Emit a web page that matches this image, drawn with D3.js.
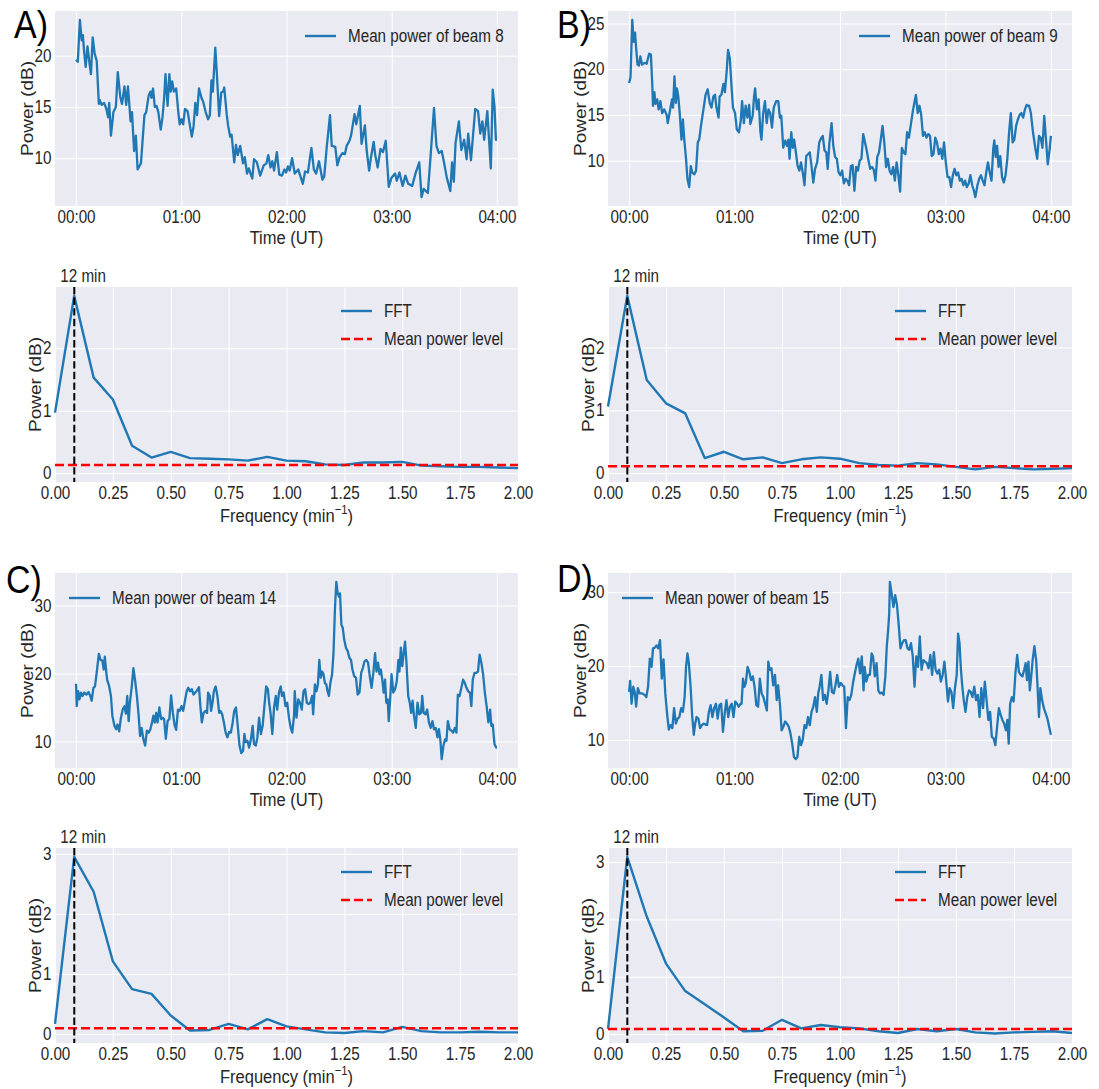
<!DOCTYPE html>
<html>
<head>
<meta charset="utf-8">
<script src="https://cdn.jsdelivr.net/npm/d3@7"></script>
<style>
  body { margin: 0; background: #fff; }
  text { font-family: "Liberation Sans", Arial, sans-serif; }
</style>
</head>
<body>
<svg id="chart" width="1099" height="1089"></svg>
<script>
// ---- data ----
const panelTags = ["A)", "B)", "C)", "D)"];
const beamNames = ["Mean power of beam 8", "Mean power of beam 9", "Mean power of beam 14", "Mean power of beam 15"];

// [minutes after 00:00 UT, power dB]
const beam8 = [[0,19.6],[1,19.4],[2.2,23.5],[3.2,21.5],[3.9,22.0],[4.7,20.2],[5.5,18.9],[6.5,20.9],[7.5,19.5],[8.5,18.2],[9.5,21.8],[10.6,20.2],[11.8,19.5],[13,15.3],[13.4,15.7],[14.6,15.2],[16,15.4],[17.3,14.8],[18.3,14.0],[18.9,15.4],[19.9,12.2],[21.3,14.5],[22.7,15.0],[23.8,18.4],[25.2,16.0],[26.2,15.3],[27.6,17.0],[28.6,15.2],[29.6,17.0],[31.1,13.6],[31.9,14.5],[33.1,10.7],[34.1,12.2],[35.1,8.9],[37,9.5],[39,14.2],[40,14.5],[41.4,16.1],[42.4,16.5],[43,15.9],[43.9,16.8],[44.9,15.0],[45.9,15.1],[46.9,14.5],[48.3,12.8],[49.3,14.0],[50.2,15.8],[51,18.2],[52.2,15.1],[53.2,18.2],[54,16.5],[54.8,17.5],[55.8,16.5],[57.1,16.8],[58.3,14.5],[59.1,13.3],[60.1,13.8],[61.1,13.3],[62.1,14.8],[63.6,14.6],[65,13.1],[66,12.1],[67,13.1],[68,15.4],[69,14.2],[70.1,16.8],[71.5,15.9],[72.5,15.5],[73.9,14.5],[75.3,13.8],[76.3,14.2],[77.2,17.6],[78,16.5],[79.4,20.8],[80.4,17.9],[81.6,14.1],[82.8,16.4],[83.9,16.5],[84.5,16.9],[85.9,14.3],[86.7,13.2],[87.9,12.1],[88.7,12.3],[90.2,9.6],[91.2,11.3],[92.2,10.3],[93.6,11.2],[95.2,9.5],[96.2,10.1],[97.5,8.5],[98.5,9.0],[100.5,8.0],[101.5,9.9],[103.1,9.6],[105,8.3],[107,9.3],[108.6,9.5],[109.6,10.3],[110.9,9.1],[111.9,9.7],[112.9,8.8],[114.5,10.6],[115.9,8.4],[117.4,8.3],[118.8,8.9],[119.8,8.6],[120.8,9.2],[121.8,8.8],[123.2,10.0],[124.7,8.5],[126.7,8.9],[129.3,7.5],[130.6,8.7],[132.2,8.6],[134.2,11.0],[135.6,8.9],[136.9,8.5],[138.5,9.7],[140.5,7.9],[141.5,8.2],[142.9,11.0],[144.8,14.2],[145.8,11.2],[147.8,11.1],[149,9.3],[150.3,10.1],[151.9,10.5],[153.3,10.4],[154.3,11.2],[155.9,11.7],[156.8,12.2],[158.8,14.3],[159.8,13.3],[161.8,15.1],[162.8,11.4],[164.7,13.2],[165.7,10.8],[167.1,8.8],[168.1,10.0],[169.7,11.6],[170.6,10.3],[172,9.1],[173.6,10.9],[175,10.6],[176.6,11.7],[178.3,7.2],[179.9,8.1],[181.9,8.5],[182.9,7.8],[184.4,8.6],[186.2,7.3],[187.8,8.3],[189.4,7.5],[191.7,7.3],[193.7,8.6],[195.7,9.6],[197,6.2],[198.2,7.0],[200.6,6.6],[202.2,10.3],[204.1,14.9],[205.5,11.2],[206.9,10.5],[208.5,10.7],[209.9,9.5],[211.4,8.1],[213.4,6.8],[214.4,9.6],[215.4,7.7],[216.4,11.5],[218.3,13.6],[219.7,10.8],[221.3,11.8],[222.7,9.9],[223.6,12.4],[225.2,9.8],[227.6,14.8],[229.2,14.6],[230.5,12.4],[231.7,13.6],[232.7,11.8],[234.5,14.6],[236.5,9.0],[237.6,16.7],[238.6,15.0],[239.4,11.8],[240,11.8]];

const beam9 = [[0,18.5],[0.8,19.1],[1.8,25.4],[2.6,23.0],[3.4,24.0],[4,22.3],[4.8,20.5],[5.6,20.4],[6.4,21.4],[7.4,20.5],[8.8,20.7],[10,20.6],[11.4,21.7],[12.4,21.6],[13.2,18.3],[13.6,16.0],[14.4,17.5],[15,16.2],[16,16.7],[16.8,15.6],[17.8,16.5],[18.8,15.2],[20,15.6],[21.4,15.0],[22,14.1],[23.4,15.6],[24.4,16.7],[25,15.8],[25.8,19.2],[26.6,16.3],[27.2,17.9],[28,17.0],[28.8,15.2],[29.8,12.3],[30.6,14.5],[31.4,12.3],[32.4,10.2],[33.2,8.0],[34.2,7.1],[35.1,9.4],[35.9,8.7],[37.1,8.5],[38.1,8.9],[39.1,12.0],[39.9,12.3],[40.9,13.8],[42.3,15.6],[43.5,17.2],[44.7,17.8],[45.9,16.3],[46.9,15.8],[47.9,17.0],[48.9,17.2],[49.7,15.8],[50.9,14.7],[51.5,17.0],[52.5,17.2],[53.7,18.4],[54.5,17.5],[55.5,19.7],[56.3,22.1],[57.3,21.2],[58.3,18.1],[59.1,15.8],[60.3,15.2],[61.3,13.4],[62.5,13.1],[63.5,14.3],[64.3,16.5],[65.3,14.1],[66.3,16.0],[67.3,14.7],[68.3,16.1],[69,14.0],[70.3,14.9],[71.1,17.0],[71.7,17.9],[72.7,15.6],[73.7,16.7],[74.7,13.2],[75.3,12.3],[76.3,15.2],[77.3,16.5],[78.3,14.1],[79.3,15.6],[80.3,15.2],[81.3,13.6],[82.3,15.8],[83.7,16.5],[84.9,16.5],[85.8,14.7],[86.6,14.9],[87.7,11.4],[88.9,12.2],[89.9,11.6],[90.7,12.3],[91.3,10.2],[92.3,13.1],[93.1,11.4],[93.9,12.3],[94.9,10.9],[95.9,9.4],[96.9,8.9],[97.8,9.8],[98.8,8.7],[99.8,7.3],[100.8,10.5],[101.8,10.7],[102.8,10.9],[103.8,9.4],[104.8,7.6],[105.8,9.1],[107,9.8],[108.2,12.0],[109.4,12.5],[110.2,12.7],[111.2,11.1],[112.2,10.9],[113,9.1],[114,12.0],[115.2,14.1],[116.2,11.6],[117.2,10.4],[118.2,10.2],[119.2,8.7],[120.2,8.4],[121.2,8.9],[122.2,7.5],[123.2,8.0],[124.2,7.8],[125.2,7.3],[126.2,9.4],[127.2,9.5],[128.2,6.7],[129.2,9.3],[130.2,8.9],[131.2,10.0],[132.2,10.2],[133.2,12.9],[134.2,12.0],[135.2,11.1],[136.2,10.0],[137.2,9.1],[138.2,9.3],[139.2,9.0],[140.2,7.8],[141.2,10.4],[142.2,10.9],[143.2,12.3],[144.2,13.8],[145.2,12.0],[146.2,9.3],[147.2,10.2],[148.2,8.9],[149.2,8.5],[150.2,9.3],[151.2,7.8],[152.2,9.8],[153.2,8.4],[154.2,6.6],[155.2,11.4],[156.2,10.9],[157.2,10.7],[158.2,13.1],[159.2,12.5],[160.2,13.8],[161.6,15.6],[163.2,17.2],[164.2,15.2],[165.2,16.0],[166.2,15.0],[167.2,12.7],[168.2,13.1],[169.2,12.5],[170.2,12.9],[171.2,12.7],[172.2,10.5],[173.2,10.7],[174.2,12.5],[175.2,12.0],[176.2,10.7],[177.2,11.3],[178.2,10.2],[179.2,12.0],[180.2,9.8],[181.2,8.2],[182.2,8.2],[183.2,7.1],[184.2,8.4],[185.2,9.1],[186.2,8.4],[187.2,8.7],[188.2,7.8],[189.2,8.0],[190.2,7.3],[191.2,7.8],[192.2,7.1],[193.2,7.5],[194.2,8.4],[195.2,7.3],[196.2,6.7],[197,6.0],[198.2,7.3],[199.2,8.0],[200.2,8.4],[201.2,7.8],[202.2,7.3],[203.2,8.7],[204.2,9.8],[205.2,8.7],[206.2,7.8],[207.2,11.3],[207.8,12.2],[208.6,10.4],[209.4,11.6],[210.2,9.3],[211.2,10.5],[212.2,8.2],[213.2,7.6],[214.2,8.4],[215.2,10.2],[216.2,13.1],[217.2,15.2],[218.2,12.0],[219.2,12.3],[220.2,13.8],[221.2,14.5],[222.2,15.0],[223.2,15.2],[224.2,14.7],[225.2,15.6],[226.2,16.1],[226.8,16.0],[227.6,16.0],[228.6,15.2],[229.8,13.1],[231.2,11.3],[232.2,10.2],[233.2,12.7],[234.2,12.5],[235.2,11.4],[236.2,14.9],[237.2,12.3],[238.2,9.6],[239.2,11.1],[240,12.7]];

const beam14 = [[0,18.5],[0.4,15.2],[1.2,17.4],[2,16.2],[2.8,17.2],[3.7,16.7],[4.7,17.2],[5.9,16.9],[7.1,17.3],[8.1,16.7],[8.9,16.0],[9.9,17.9],[10.8,18.1],[12,20.6],[13,22.9],[14,22.0],[15,21.9],[15.8,20.6],[16.4,22.5],[16.9,21.1],[17.7,19.1],[18.9,18.1],[19.9,16.7],[20.7,13.8],[21.9,12.3],[22.9,11.8],[23.6,12.5],[24.6,11.5],[25.6,13.5],[26.6,14.7],[27.6,15.2],[28.4,14.1],[29.2,16.7],[30,13.0],[30.7,15.7],[31.7,17.9],[32.7,20.8],[33.7,18.9],[34.7,16.7],[35.7,13.8],[36.5,10.8],[37.4,12.0],[38.4,10.3],[39.4,9.4],[40.4,11.6],[41.4,11.3],[42.4,11.8],[43.3,12.8],[44.1,13.8],[44.9,12.8],[45.7,14.2],[46.5,12.8],[47.5,15.0],[48.5,13.3],[49.3,13.5],[50.2,13.3],[51.2,10.4],[52.2,13.0],[53.2,13.3],[54.2,16.8],[55.2,14.2],[56.2,12.4],[57.1,11.7],[58.1,14.7],[59.1,14.5],[60.1,15.2],[61.1,14.5],[62.1,16.0],[63.1,17.4],[64,17.9],[65,17.4],[66,17.7],[67,16.9],[68,17.2],[69,17.5],[70.1,18.0],[70.9,15.2],[71.7,12.8],[72.7,14.2],[73.7,14.5],[74.7,14.2],[75.3,17.2],[76.3,16.7],[77,14.5],[77.8,15.7],[78.6,17.4],[79.6,18.1],[80.6,16.7],[81.6,14.2],[82.4,14.5],[83.3,14.0],[84.3,12.8],[85.3,11.3],[86.3,10.6],[87.3,11.4],[88.3,11.3],[89.3,12.8],[90.2,14.5],[91.2,15.0],[92.2,12.3],[93.2,9.4],[94.2,8.3],[95.2,8.6],[96,11.1],[96.7,9.9],[97.7,10.1],[98.7,9.1],[99.7,10.3],[100.7,12.3],[101.5,9.6],[102.5,9.4],[103.4,10.6],[104.4,13.5],[105.4,11.1],[106.4,12.3],[107.4,15.2],[108.4,18.1],[109.4,17.7],[110.1,15.7],[110.9,14.2],[111.9,11.1],[112.9,15.0],[113.9,16.7],[114.7,14.7],[115.7,17.2],[116.7,18.1],[117.4,16.7],[118.4,17.2],[119.4,15.2],[120.4,15.7],[121.4,13.5],[122.4,12.0],[123.3,11.3],[124.3,13.8],[124.7,17.4],[125.7,13.5],[126.7,16.2],[127.7,15.7],[128.7,14.7],[129.7,17.4],[130.6,17.7],[131.6,15.7],[132.6,15.5],[133.6,15.7],[134.6,16.7],[135.2,14.0],[136.2,18.4],[137.1,17.4],[137.9,18.4],[138.7,22.0],[139.5,19.4],[140.3,20.3],[141.1,19.9],[141.9,18.6],[142.7,18.4],[143.4,17.4],[144.2,16.7],[145,18.6],[146,19.9],[146.8,23.0],[147.6,29.4],[148.4,33.5],[149.2,31.8],[150,31.3],[150.5,31.8],[151.3,27.2],[152.1,26.7],[152.9,25.0],[153.9,23.8],[154.9,23.3],[155.9,22.3],[156.8,22.0],[157.6,20.6],[158.6,19.6],[159.6,19.4],[160.6,16.9],[161.6,17.2],[162.6,20.1],[163.5,20.8],[164.5,21.8],[165.5,22.0],[166.5,21.6],[167.5,19.6],[168.5,17.9],[169.5,20.1],[170.5,23.0],[171.3,20.3],[172.2,21.6],[173,19.9],[173.8,20.6],[174.6,19.1],[175.4,17.2],[176.2,19.1],[176.9,15.7],[177.7,16.2],[178.3,13.0],[179.1,16.2],[179.9,19.9],[180.9,17.2],[181.9,17.7],[182.9,18.9],[183.8,22.0],[184.4,20.3],[185.2,23.8],[186,21.1],[186.8,23.0],[187.6,24.7],[188.4,21.6],[189.4,16.7],[190.3,15.7],[191.1,14.2],[191.9,16.0],[192.7,13.8],[193.7,12.0],[194.7,15.7],[195.7,14.0],[196.7,14.2],[197.4,16.7],[198.2,14.2],[199.2,14.0],[200.2,14.7],[201.2,12.8],[202.2,12.0],[203.2,13.0],[204.1,11.8],[205.1,12.0],[206.1,10.6],[206.9,11.8],[207.7,10.3],[208.5,7.4],[209.5,9.4],[210.4,10.3],[211.2,10.1],[212,13.0],[213,11.8],[214,11.6],[215,11.3],[216,12.0],[216.9,11.3],[217.7,16.9],[218.7,16.7],[219.7,17.9],[220.7,19.1],[221.7,18.6],[222.6,17.9],[223.6,17.4],[224.6,17.2],[225.4,15.2],[226.2,19.1],[227.2,20.1],[228.2,20.1],[229.2,20.3],[230.1,22.8],[231.1,21.6],[232.1,19.9],[233.1,17.2],[234.1,15.2],[235.1,12.8],[236.1,14.7],[236.8,12.3],[237.6,12.5],[238.6,9.6],[239.6,9.1],[240,9.1]];

const beam15 = [[0,16.5],[0.6,18.0],[1.4,14.9],[2.4,17.2],[3.2,16.5],[4,14.5],[5,17.0],[6,16.3],[7.4,16.3],[8.8,16.1],[9.8,15.8],[10.8,17.2],[11.8,21.0],[12.8,19.9],[13.6,22.4],[14.6,22.5],[15.6,22.8],[16.6,22.4],[17.6,23.5],[18.6,18.3],[19.6,20.9],[20.6,16.3],[21.6,13.6],[22.6,11.4],[23.6,12.0],[24.6,11.6],[25.6,14.3],[26.6,12.2],[27.6,12.9],[28.6,13.1],[29.6,14.3],[30.6,13.8],[31.6,15.8],[32.4,19.9],[33.2,21.7],[34,20.4],[35,17.2],[35.8,13.6],[36.8,10.7],[37.6,12.2],[38.4,13.1],[39.4,12.9],[40.4,11.6],[41.4,12.0],[42.4,12.2],[43.4,12.1],[44.4,12.0],[45.4,13.8],[46.4,14.7],[47.4,13.1],[48.4,14.3],[49.4,14.9],[50.4,12.9],[51.4,14.7],[52.4,14.9],[53.4,11.1],[54.4,13.6],[55.4,15.4],[56.4,13.1],[57.4,14.5],[58.4,14.9],[59.4,13.1],[60.4,15.2],[61.4,14.9],[62.4,14.5],[63.4,14.9],[64,14.9],[64.8,18.3],[65.6,17.2],[66.4,17.7],[67.4,19.9],[68.4,19.2],[69.4,18.1],[70.4,18.6],[71.4,17.2],[72.4,14.7],[73.4,14.5],[74.4,18.3],[75.4,16.3],[76.4,15.8],[77.4,14.9],[78.4,14.0],[79.2,20.6],[80,19.5],[81,19.7],[82,17.4],[83,18.8],[84,15.4],[84.8,17.4],[85.8,14.9],[86.8,11.3],[87.8,11.8],[88.8,12.5],[89.8,12.2],[90.8,11.8],[91.8,10.9],[92.8,9.5],[93.8,7.7],[94.8,7.4],[95.8,7.7],[96.8,10.4],[97.8,9.3],[98.8,10.0],[99.8,12.0],[100.8,11.6],[101.8,13.1],[102.8,12.0],[103.8,13.8],[104.8,14.5],[105.8,15.8],[106.8,13.8],[107.6,16.3],[108.4,17.2],[109.4,18.8],[110.4,15.4],[111.4,16.1],[112.4,14.9],[113.4,16.7],[114.4,19.2],[115.4,16.5],[116.4,16.3],[117.4,17.4],[118.4,18.8],[119.4,17.2],[120.4,17.7],[121.4,17.4],[122.4,17.2],[123.4,11.6],[124.4,15.8],[125.4,15.4],[126.4,16.1],[127.4,17.7],[128.4,19.0],[129.4,20.1],[130.4,21.0],[131.4,19.0],[132.4,21.3],[133.4,16.7],[134,19.9],[135,17.9],[136,18.8],[137,18.8],[138,21.7],[138.8,21.3],[139.8,18.6],[140.8,20.4],[141.8,16.7],[142.8,16.3],[143.8,16.4],[144.8,16.1],[145.8,18.6],[146.6,22.6],[147.4,24.9],[148,27.1],[148.4,31.4],[149.4,29.8],[150.4,28.0],[151.4,29.6],[152.4,28.3],[153.4,25.6],[154.4,22.4],[155.4,23.1],[156.4,23.5],[157.4,23.5],[158.4,22.4],[159.4,22.2],[160.4,23.1],[161.4,21.3],[162.4,17.2],[163.4,21.3],[164.4,19.9],[165.4,24.0],[166.4,19.5],[167.4,20.8],[168.4,20.6],[169.4,20.4],[170.4,19.7],[171.4,21.5],[172.4,18.8],[173.4,21.9],[174.4,19.5],[175.4,19.0],[176.4,19.5],[177.4,17.9],[178.4,18.8],[179.4,20.6],[180.4,18.1],[181.4,15.2],[182.4,17.0],[183.4,16.5],[184.4,14.3],[185.4,17.0],[186.4,18.8],[187.2,24.4],[188,23.1],[188.8,19.5],[189.6,17.2],[190.4,15.4],[191.4,13.8],[192.4,15.8],[193.4,16.7],[194.4,16.5],[195.4,15.8],[196.4,17.2],[197.4,15.4],[198.4,16.1],[199.4,13.1],[200.4,17.0],[201.4,14.3],[202.4,17.9],[203.4,15.4],[204.4,12.7],[205.4,13.8],[206.4,10.4],[207.4,10.2],[208.4,9.3],[209.4,11.8],[210.4,14.3],[211.4,13.4],[212.4,12.7],[213.4,12.2],[214.4,11.3],[215.2,12.7],[216,9.5],[216.8,14.9],[217.8,15.8],[218.8,15.2],[219.8,19.0],[220.8,21.5],[221.8,19.2],[222.8,18.8],[223.8,18.6],[224.8,19.5],[225.6,20.4],[226.4,18.1],[227.2,20.6],[228,16.7],[228.8,18.6],[229.6,20.8],[230.6,22.7],[231.6,20.8],[232.4,17.2],[233.2,13.1],[234,17.0],[235,15.4],[236,14.3],[237,13.6],[238,12.9],[239,11.8],[240,10.7]];

const beamSeries = [beam8, beam9, beam14, beam15];

// spectrum: frequency bins (min^-1) and power for each beam
const fftFreq = [0, 0.083, 0.167, 0.25, 0.333, 0.417, 0.5, 0.583, 0.667, 0.75, 0.833, 0.917, 1.0, 1.083, 1.167, 1.25, 1.333, 1.417, 1.5, 1.583, 1.667, 1.75, 1.833, 1.917, 2.0];
const fft8 = [0.97, 2.84, 1.53, 1.18, 0.44, 0.25, 0.34, 0.24, 0.23, 0.22, 0.20, 0.26, 0.20, 0.19, 0.14, 0.13, 0.17, 0.17, 0.18, 0.12, 0.11, 0.10, 0.10, 0.09, 0.08];
const fft9 = [1.06, 2.82, 1.48, 1.11, 0.95, 0.24, 0.34, 0.22, 0.25, 0.16, 0.22, 0.25, 0.23, 0.16, 0.13, 0.12, 0.16, 0.14, 0.10, 0.06, 0.10, 0.08, 0.06, 0.07, 0.08];
const fft14 = [0.17, 2.95, 2.37, 1.21, 0.75, 0.67, 0.31, 0.06, 0.07, 0.17, 0.08, 0.25, 0.13, 0.08, 0.03, 0.02, 0.05, 0.03, 0.12, 0.05, 0.03, 0.03, 0.04, 0.03, 0.03];
const fft15 = [0.09, 3.09, 2.05, 1.23, 0.75, 0.52, 0.29, 0.05, 0.06, 0.25, 0.10, 0.16, 0.12, 0.10, 0.05, 0.02, 0.09, 0.05, 0.09, 0.03, 0.01, 0.03, 0.04, 0.05, 0.02];
const fftSeries = [fft8, fft9, fft14, fft15];
const meanPowerLevel = [0.13, 0.11, 0.10, 0.09];
const peakFreq = 0.0833;
const peakLabel = "12 min";

// ticks
const timeTicks = [0, 60, 120, 180, 240];
const powerTickStep = [5, 5, 10, 10];
const freqTicks = [0, 0.25, 0.5, 0.75, 1.0, 1.25, 1.5, 1.75, 2.0];

// ---- layout / style ----
const svg = d3.select("#chart");
const SX = 0.87;           // figure was squeezed horizontally; squeeze glyphs the same way
const ink = "#262626";
const blue = "#1f77b4";
const bg = "#eaeaf2";
const cols = [{x0: 55, x1: 518}, {x0: 608, x1: 1072}];
const timeRows = [{y0: 11, y1: 206}, {y0: 573, y1: 768}];
const fftRows = [{y0: 287, y1: 482}, {y0: 848, y1: 1043}];
const tagPos = [[14, 38], [557, 38], [6, 593], [557, 592]];

const addText = (g, x, y, txt, size, anchor, color) =>
  g.append("text")
    .attr("transform", `translate(${x},${y}) scale(${SX},1)`)
    .attr("text-anchor", anchor)
    .attr("font-size", size)
    .attr("fill", color || ink)
    .text(txt);

const drawFrame = (g, box, x, y, xTicks, yTicks, xFmt, yFmt, ylabelGap) => {
  g.append("rect")
    .attr("x", box.x0).attr("y", box.y0)
    .attr("width", box.x1 - box.x0).attr("height", box.y1 - box.y0)
    .attr("fill", bg);

  // grid
  g.append("g")
    .attr("transform", `translate(0,${box.y1})`)
    .call(d3.axisBottom(x).tickValues(xTicks).tickSize(-(box.y1 - box.y0)).tickFormat(""))
    .call((s) => s.select(".domain").remove())
    .selectAll("line").attr("stroke", "#fff").attr("stroke-width", 1);
  g.append("g")
    .attr("transform", `translate(${box.x0},0)`)
    .call(d3.axisLeft(y).tickValues(yTicks).tickSize(-(box.x1 - box.x0)).tickFormat(""))
    .call((s) => s.select(".domain").remove())
    .selectAll("line").attr("stroke", "#fff").attr("stroke-width", 1);

  // tick labels
  const xa = g.append("g")
    .attr("transform", `translate(0,${box.y1})`)
    .call(d3.axisBottom(x).tickValues(xTicks).tickSize(0).tickPadding(5).tickFormat(xFmt));
  const ya = g.append("g")
    .attr("transform", `translate(${box.x0},0)`)
    .call(d3.axisLeft(y).tickValues(yTicks).tickSize(0).tickPadding(4).tickFormat(yFmt));
  [xa, ya].forEach((a) => {
    a.select(".domain").remove();
    a.selectAll("text")
      .attr("font-size", 17.5)
      .attr("fill", ink)
      .attr("font-family", "Liberation Sans, Arial, sans-serif")
      .attr("transform", `scale(${SX},1)`);
  });

  // y label
  g.append("text")
    .attr("transform", `translate(${box.x0 - ylabelGap},${(box.y0 + box.y1) / 2}) scale(${SX},1) rotate(-90)`)
    .attr("text-anchor", "middle")
    .attr("font-size", 19)
    .attr("fill", ink)
    .text("Power (dB)");
};

const legendRow = (g, x, y, color, dash, txt) => {
  g.append("line")
    .attr("x1", x).attr("x2", x + 31).attr("y1", y).attr("y2", y)
    .attr("stroke", color)
    .attr("stroke-width", dash ? 2.5 : 2.4)
    .attr("stroke-dasharray", dash ? "9,4" : null);
  addText(g, x + 43, y + 6, txt, 17.5, "start");
};

const hhmm = (m) => d3.format("02")(Math.floor(m / 60)) + ":" + d3.format("02")(m % 60);

beamSeries.forEach((series, i) => {
  const col = cols[i % 2];
  const tb = {x0: col.x0, x1: col.x1, y0: timeRows[Math.floor(i / 2)].y0, y1: timeRows[Math.floor(i / 2)].y1};
  const fb = {x0: col.x0, x1: col.x1, y0: fftRows[Math.floor(i / 2)].y0, y1: fftRows[Math.floor(i / 2)].y1};

  // ---- time series ----
  const g = svg.append("g");
  const tExt = d3.extent(series, (d) => d[0]);
  const pExt = d3.extent(series, (d) => d[1]);
  const tPad = (tExt[1] - tExt[0]) * 0.05;
  const pPad = (pExt[1] - pExt[0]) * 0.05;
  const x = d3.scaleLinear().domain([tExt[0] - tPad, tExt[1] + tPad]).range([tb.x0, tb.x1]);
  const y = d3.scaleLinear().domain([pExt[0] - pPad, pExt[1] + pPad]).range([tb.y1, tb.y0]);
  const step = powerTickStep[i];
  const yTicks = d3.range(Math.ceil(y.domain()[0] / step) * step, y.domain()[1], step);

  drawFrame(g, tb, x, y, timeTicks, yTicks, hhmm, d3.format("d"), 22);

  g.append("path")
    .datum(series)
    .attr("fill", "none")
    .attr("stroke", blue)
    .attr("stroke-width", 2.3)
    .attr("stroke-linejoin", "round")
    .attr("d", d3.line().x((d) => x(d[0])).y((d) => y(d[1])));

  addText(g, (tb.x0 + tb.x1) / 2, tb.y1 + 38, "Time (UT)", 19, "middle");

  if (i < 2) legendRow(g, tb.x1 - 213, tb.y0 + 25, blue, false, beamNames[i]);
  else legendRow(g, tb.x0 + 14, tb.y0 + 25, blue, false, beamNames[i]);

  addText(g, tagPos[i][0], tagPos[i][1], panelTags[i], 39, "start", "#000");

  // ---- spectrum ----
  const h = svg.append("g");
  const fft = fftSeries[i];
  const fmax = d3.max(fft);
  const fx = d3.scaleLinear().domain([0, 2]).range([fb.x0, fb.x1]);
  const fy = d3.scaleLinear().domain([-0.05 * fmax, 1.05 * fmax]).range([fb.y1, fb.y0]);
  const fyTicks = fy.ticks(4).filter((v) => Number.isInteger(v) && v >= 0);

  drawFrame(h, fb, fx, fy, freqTicks, fyTicks, d3.format(".2f"), d3.format("d"), 14);

  h.append("path")
    .datum(fft.map((v, k) => [fftFreq[k], v]))
    .attr("fill", "none")
    .attr("stroke", blue)
    .attr("stroke-width", 2.4)
    .attr("stroke-linejoin", "round")
    .attr("d", d3.line().x((d) => fx(d[0])).y((d) => fy(d[1])));

  h.append("line")
    .attr("x1", fb.x0).attr("x2", fb.x1)
    .attr("y1", fy(meanPowerLevel[i])).attr("y2", fy(meanPowerLevel[i]))
    .attr("stroke", "#ff0000")
    .attr("stroke-width", 2.5)
    .attr("stroke-dasharray", "9,4");

  h.append("line")
    .attr("x1", fx(peakFreq)).attr("x2", fx(peakFreq))
    .attr("y1", fb.y0).attr("y2", fb.y1)
    .attr("stroke", "#000")
    .attr("stroke-width", 2)
    .attr("stroke-dasharray", "7.4,3.2");

  addText(h, fx(peakFreq) - 14, fb.y0 - 5, peakLabel, 17.5, "start");

  const fl = addText(h, (fb.x0 + fb.x1) / 2, fb.y1 + 40, "Frequency (min", 19, "middle");
  fl.append("tspan").attr("font-size", 13).attr("dy", -8).text("\u22121");
  fl.append("tspan").attr("dy", 8).text(")");

  legendRow(h, fb.x1 - 177, fb.y0 + 24, blue, false, "FFT");
  legendRow(h, fb.x1 - 177, fb.y0 + 52, "#ff0000", true, "Mean power level");
});
</script>
</body>
</html>
